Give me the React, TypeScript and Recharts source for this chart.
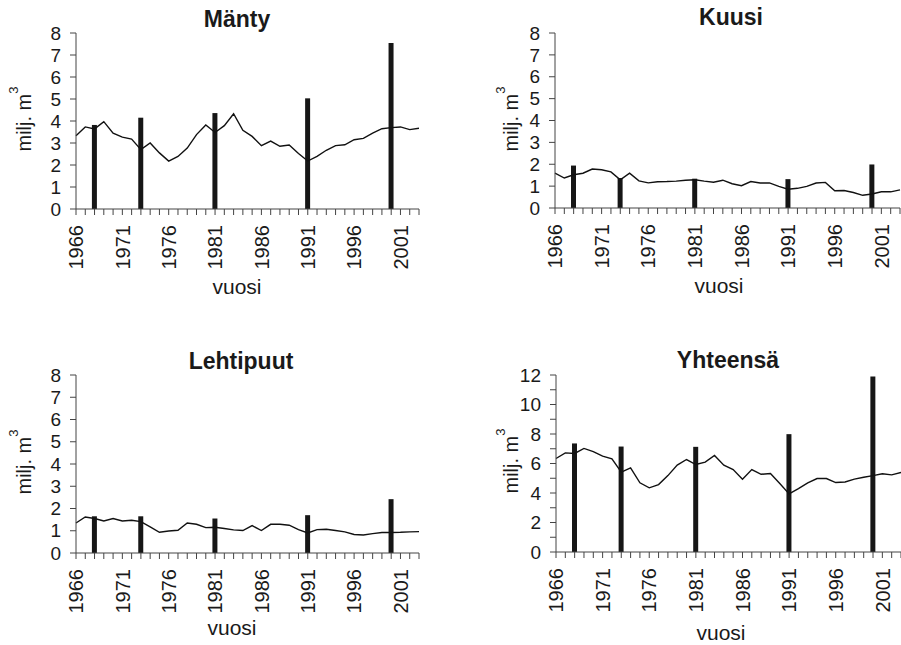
import React from 'react';
import { ComposedChart, Line, Bar, XAxis, YAxis } from 'recharts';

const years = [1966, 1967, 1968, 1969, 1970, 1971, 1972, 1973, 1974, 1975, 1976, 1977, 1978, 1979, 1980, 1981, 1982, 1983, 1984, 1985, 1986, 1987, 1988, 1989, 1990, 1991, 1992, 1993, 1994, 1995, 1996, 1997, 1998, 1999, 2000, 2001, 2002, 2003];
const labelYears = [1966, 1971, 1976, 1981, 1986, 1991, 1996, 2001];
const surveyYears = [1968, 1973, 1981, 1991, 2000];

const mantyLine = [3.33, 3.73, 3.64, 3.97, 3.45, 3.27, 3.18, 2.7, 3.0, 2.55, 2.18, 2.39, 2.77, 3.38, 3.82, 3.48, 3.79, 4.33, 3.58, 3.3, 2.88, 3.09, 2.85, 2.91, 2.52, 2.18, 2.39, 2.67, 2.88, 2.92, 3.15, 3.21, 3.45, 3.65, 3.7, 3.73, 3.61, 3.67];
const mantyBars = [3.82, 4.15, 4.36, 5.03, 7.55];

const kuusiLine = [1.59, 1.37, 1.52, 1.59, 1.78, 1.75, 1.65, 1.29, 1.59, 1.24, 1.15, 1.2, 1.21, 1.23, 1.27, 1.29, 1.23, 1.18, 1.27, 1.11, 1.02, 1.21, 1.14, 1.15, 0.99, 0.86, 0.9, 0.99, 1.14, 1.17, 0.79, 0.8, 0.71, 0.58, 0.64, 0.74, 0.74, 0.83];
const kuusiBars = [1.94, 1.37, 1.34, 1.32, 1.99];

const lehtiLine = [1.35, 1.62, 1.55, 1.44, 1.55, 1.44, 1.47, 1.41, 1.17, 0.93, 0.99, 1.02, 1.35, 1.29, 1.14, 1.16, 1.1, 1.04, 1.01, 1.23, 1.01, 1.29, 1.29, 1.25, 1.05, 0.9, 1.05, 1.07, 1.01, 0.95, 0.83, 0.81, 0.87, 0.92, 0.92, 0.93, 0.95, 0.96];
const lehtiBars = [1.65, 1.65, 1.55, 1.7, 2.42];

const yhtLine = [6.34, 6.72, 6.68, 7.02, 6.81, 6.5, 6.32, 5.41, 5.7, 4.69, 4.35, 4.57, 5.18, 5.89, 6.27, 5.93, 6.09, 6.54, 5.89, 5.59, 4.94, 5.59, 5.27, 5.32, 4.64, 3.94, 4.3, 4.69, 4.98, 4.98, 4.71, 4.75, 4.94, 5.07, 5.18, 5.3, 5.23, 5.39];
const yhtBars = [7.36, 7.15, 7.13, 7.99, 11.89];

const yTicks8 = [0, 1, 2, 3, 4, 5, 6, 7, 8];
const yTicks12 = [0, 1, 2, 3, 4, 5, 6, 7, 8, 9, 10, 11, 12];
const yLabels12 = [0, 2, 4, 6, 8, 10, 12];

const FONT = '"Liberation Sans", Arial, Helvetica, sans-serif';
const AXIS = '#444';
const TEXT = '#1a1a1a';

function buildData(line: number[], bars: number[]) {
  return years.map((y, i) => {
    const k = surveyYears.indexOf(y);
    return { year: y, line: line[i], bar: k >= 0 ? bars[k] : null };
  });
}

const XTick = (props: any) => {
  const { x, y, payload } = props;
  const v = payload.value;
  if (labelYears.indexOf(v) < 0) return <g />;
  return (
    <text
      x={x}
      y={y}
      transform={`rotate(-90, ${x}, ${y})`}
      textAnchor="end"
      dy="0.36em"
      fontSize={20}
      fontFamily={FONT}
      fill={TEXT}
    >
      {v}
    </text>
  );
};

type PanelProps = {
  left: number;
  top: number;
  width: number;
  height: number;
  margin: { top: number; right: number; bottom: number; left: number };
  yWidth: number;
  data: any[];
  yMax: number;
  yTicks: number[];
  yLabels: number[];
};

const Panel = (p: PanelProps) => (
  <div style={{ position: 'absolute', left: p.left, top: p.top, width: p.width, height: p.height }}>
    <ComposedChart width={p.width} height={p.height} data={p.data} margin={p.margin}>
      <XAxis
        dataKey="year"
        type="number"
        domain={[1966, 2003]}
        ticks={years}
        interval={0}
        allowDecimals={false}
        height={60}
        stroke={AXIS}
        tickSize={6}
        tickMargin={10}
        tick={<XTick />}
      />
      <YAxis
        type="number"
        domain={[0, p.yMax]}
        ticks={p.yTicks}
        interval={0}
        width={p.yWidth}
        stroke={AXIS}
        tickSize={6}
        tickMargin={9}
        tick={{ fontSize: 19, fontFamily: FONT, fill: TEXT }}
        tickFormatter={(v: number) => (p.yLabels.indexOf(v) >= 0 ? String(v) : '')}
      />
      <Line
        dataKey="line"
        type="linear"
        stroke="#111"
        strokeWidth={1.4}
        dot={false}
        isAnimationActive={false}
      />
      <Bar dataKey="bar" fill="#161616" barSize={5} isAnimationActive={false} />
    </ComposedChart>
  </div>
);

const YLabel = ({ x, y }: { x: number; y: number }) => (
  <text
    x={x}
    y={y}
    transform={`rotate(-90, ${x}, ${y})`}
    textAnchor="middle"
    fontSize={20}
    fontFamily={FONT}
    fill={TEXT}
  >
    milj. m
    <tspan dy={-13} fontSize={13}>
      3
    </tspan>
  </text>
);

const Title = ({ x, y, children }: { x: number; y: number; children: any }) => (
  <text x={x} y={y} textAnchor="middle" fontSize={23} fontWeight="bold" fontFamily={FONT} fill={TEXT}>
    {children}
  </text>
);

const XLabel = ({ x, y }: { x: number; y: number }) => (
  <text x={x} y={y} textAnchor="middle" fontSize={21} fontFamily={FONT} fill={TEXT}>
    vuosi
  </text>
);

export default function App() {
  return (
    <div
      style={{
        position: 'absolute',
        left: 0,
        top: 0,
        width: 901,
        height: 645,
        background: '#fff',
        overflow: 'hidden',
      }}
    >
      <Panel
        left={0}
        top={0}
        width={450}
        height={300}
        margin={{ top: 33, right: 31, bottom: 31, left: 0 }}
        yWidth={76}
        data={buildData(mantyLine, mantyBars)}
        yMax={8}
        yTicks={yTicks8}
        yLabels={yTicks8}
      />
      <Panel
        left={450}
        top={0}
        width={451}
        height={300}
        margin={{ top: 33, right: 1, bottom: 32, left: 0 }}
        yWidth={105}
        data={buildData(kuusiLine, kuusiBars)}
        yMax={8}
        yTicks={yTicks8}
        yLabels={yTicks8}
      />
      <Panel
        left={0}
        top={330}
        width={450}
        height={315}
        margin={{ top: 45, right: 31, bottom: 32, left: 0 }}
        yWidth={76}
        data={buildData(lehtiLine, lehtiBars)}
        yMax={8}
        yTicks={yTicks8}
        yLabels={yTicks8}
      />
      <Panel
        left={450}
        top={330}
        width={451}
        height={315}
        margin={{ top: 45, right: 0, bottom: 33, left: 0 }}
        yWidth={106}
        data={buildData(yhtLine, yhtBars)}
        yMax={12}
        yTicks={yTicks12}
        yLabels={yLabels12}
      />
      <svg
        width={901}
        height={645}
        style={{ position: 'absolute', left: 0, top: 0, pointerEvents: 'none' }}
      >
        <Title x={237} y={27}>Mänty</Title>
        <Title x={731} y={25}>Kuusi</Title>
        <Title x={241} y={369}>Lehtipuut</Title>
        <Title x={728} y={368}>Yhteensä</Title>
        <YLabel x={31} y={119} />
        <YLabel x={518} y={119} />
        <YLabel x={31} y={462} />
        <YLabel x={518} y={461} />
        <XLabel x={237} y={294} />
        <XLabel x={719} y={293} />
        <XLabel x={232} y={635} />
        <XLabel x={721} y={640} />
      </svg>
    </div>
  );
}
